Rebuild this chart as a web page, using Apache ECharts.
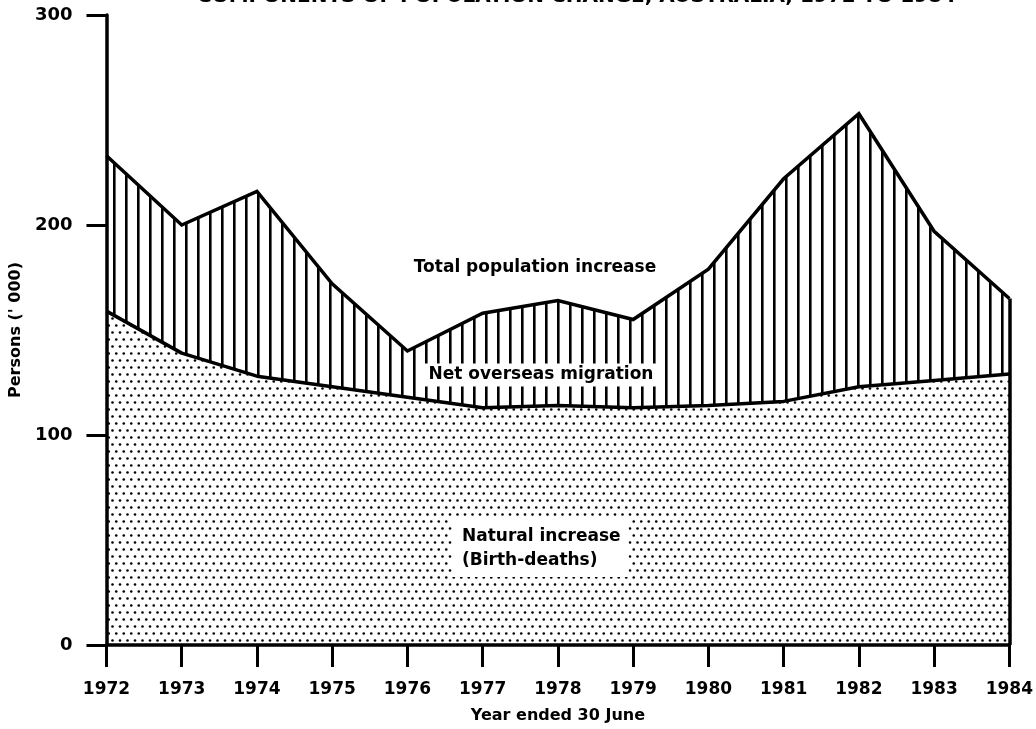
<!DOCTYPE html>
<html>
<head>
<meta charset="utf-8">
<script src="https://cdn.jsdelivr.net/npm/echarts@6/dist/echarts.min.js"></script>
<style>
  html, body { margin: 0; padding: 0; background: #fff; }
  #chart { width: 1036px; height: 729px; }
</style>
</head>
<body>
<div id="chart"></div>
<script>
// values, thousands of persons
const years = ["1972", "1973", "1974", "1975", "1976", "1977", "1978", "1979", "1980", "1981", "1982", "1983", "1984"];
const totalIncrease = [233, 200, 216, 172, 140, 158, 164, 155, 179, 222, 253, 197, 165];
const naturalIncrease = [159, 139, 128, 123, 118, 113, 114, 113, 114, 116, 123, 126, 129];

const FONT = '"DejaVu Sans", sans-serif';

// vertical hatching for net overseas migration
const makeHatch = () => {
  const c = document.createElement("canvas");
  c.width = 12;
  c.height = 12;
  const ctx = c.getContext("2d");
  ctx.fillStyle = "#fff";
  ctx.fillRect(0, 0, 12, 12);
  ctx.fillStyle = "#000";
  ctx.fillRect(5, 0, 2.6, 12);
  return c;
};

// staggered dot screen for natural increase
const makeDots = () => {
  const c = document.createElement("canvas");
  c.width = 15;
  c.height = 14;
  const ctx = c.getContext("2d");
  ctx.fillStyle = "#fff";
  ctx.fillRect(0, 0, 15, 14);
  ctx.fillStyle = "#000";
  const pts = [[3.75, 3.5], [11.25, 3.5], [0, 10.5], [7.5, 10.5], [15, 10.5]];
  pts.forEach(([x, y]) => {
    ctx.beginPath();
    ctx.arc(x, y, 1.3, 0, Math.PI * 2);
    ctx.fill();
  });
  return c;
};

const myChart = echarts.init(document.getElementById("chart"));

const options = {
  backgroundColor: "#fff",
  animation: false,
  // title sits half off the top edge, as in the scan
  title: {
    text: "COMPONENTS OF POPULATION CHANGE, AUSTRALIA, 1972 TO 1984",
    left: 197,
    top: -13,
    padding: 0,
    textStyle: {
      fontFamily: FONT,
      fontWeight: "bold",
      fontSize: 20,
      color: "#000",
    },
  },
  grid: {
    left: 102,
    right: 24,
    top: 15,
    bottom: 81,
  },
  xAxis: {
    type: "category",
    data: years,
    boundaryGap: false,
    z: 10,
    name: "Year ended 30 June",
    nameLocation: "middle",
    nameGap: 63,
    nameTextStyle: {
      fontFamily: FONT,
      fontWeight: "bold",
      fontSize: 16,
      color: "#000",
    },
    axisLine: {
      lineStyle: { color: "#000", width: 3.5 },
    },
    axisTick: {
      length: 22,
      interval: 0,
      lineStyle: { color: "#000", width: 3 },
    },
    axisLabel: {
      interval: 0,
      margin: 36,
      fontFamily: FONT,
      fontWeight: "bold",
      fontSize: 17,
      color: "#000",
    },
    splitLine: { show: false },
  },
  yAxis: {
    type: "value",
    min: 0,
    max: 300,
    interval: 100,
    z: 10,
    name: "Persons (' 000)",
    nameLocation: "middle",
    nameRotate: 90,
    nameGap: 76,
    nameTextStyle: {
      fontFamily: FONT,
      fontWeight: "bold",
      fontSize: 16,
      color: "#000",
    },
    axisLine: {
      show: true,
      lineStyle: { color: "#000", width: 3.5 },
    },
    axisTick: {
      show: true,
      length: 20,
      lineStyle: { color: "#000", width: 3 },
    },
    axisLabel: {
      margin: 34,
      fontFamily: FONT,
      fontWeight: "bold",
      fontSize: 18,
      color: "#000",
    },
    splitLine: { show: false },
  },
  series: [
    {
      name: "Total population increase",
      type: "line",
      data: totalIncrease,
      showSymbol: false,
      symbol: "none",
      lineStyle: { color: "#000", width: 3.5, join: "miter" },
      areaStyle: {
        opacity: 1,
        color: { image: makeHatch(), repeat: "repeat" },
      },
    },
    {
      name: "Natural increase",
      type: "line",
      data: naturalIncrease,
      showSymbol: false,
      symbol: "none",
      lineStyle: { color: "#000", width: 3.5 },
      areaStyle: {
        opacity: 1,
        color: { image: makeDots(), repeat: "repeat" },
      },
      // right hand edge of the shaded block
      markLine: {
        silent: true,
        symbol: "none",
        label: { show: false },
        lineStyle: { color: "#000", width: 3.5, type: "solid" },
        data: [
          [
            { coord: [years[years.length - 1], 0] },
            { coord: [years[years.length - 1], totalIncrease[totalIncrease.length - 1]] },
          ],
        ],
      },
    },
  ],
  graphic: [
    {
      type: "text",
      x: 535,
      y: 268,
      z: 100,
      style: {
        text: "Total population increase",
        font: 'bold 17px "DejaVu Sans"',
        fill: "#000",
        align: "center",
        verticalAlign: "middle",
      },
    },
    {
      type: "text",
      x: 541,
      y: 375,
      z: 100,
      style: {
        text: "Net overseas migration",
        font: 'bold 17px "DejaVu Sans"',
        fill: "#000",
        align: "center",
        verticalAlign: "middle",
        backgroundColor: "#fff",
        padding: [3, 5, 3, 5],
      },
    },
    {
      type: "text",
      x: 452,
      y: 520,
      z: 100,
      style: {
        text: "Natural increase\n(Birth-deaths)",
        font: 'bold 17px "DejaVu Sans"',
        fill: "#000",
        align: "left",
        verticalAlign: "top",
        lineHeight: 24,
        backgroundColor: "#fff",
        padding: [5, 8, 4, 10],
      },
    },
  ],
};

myChart.setOption(options);
</script>
</body>
</html>
